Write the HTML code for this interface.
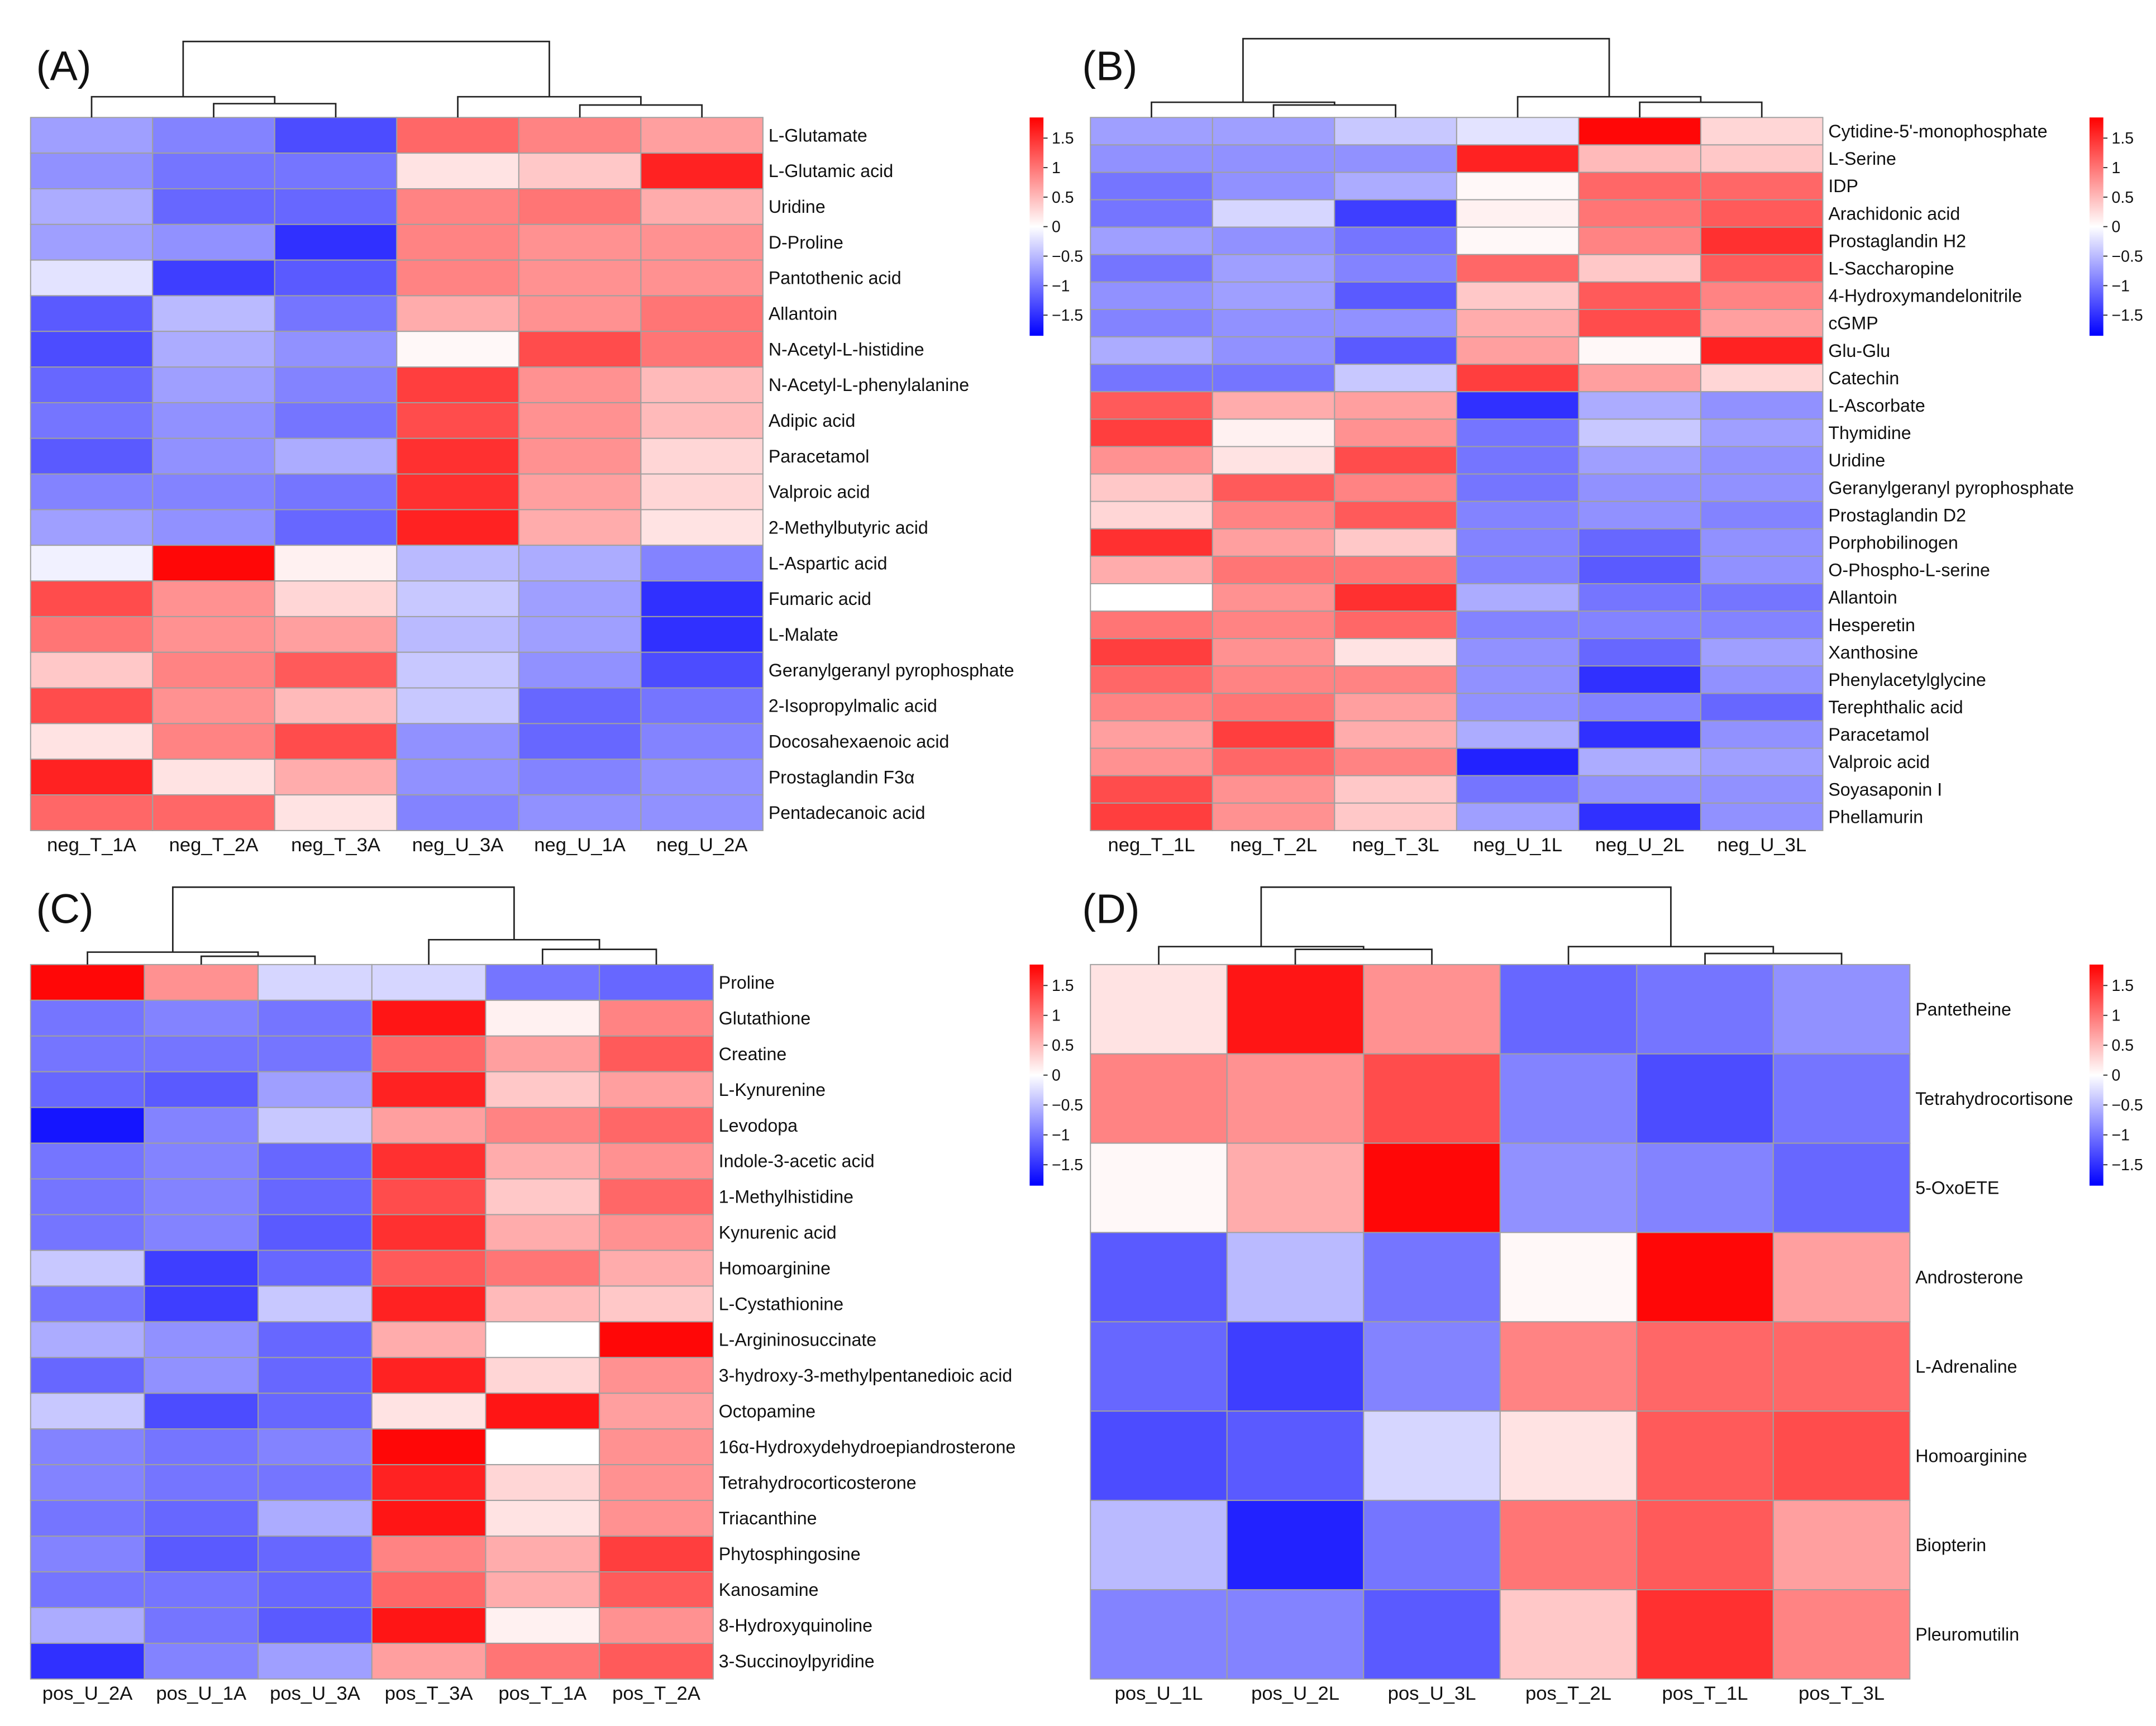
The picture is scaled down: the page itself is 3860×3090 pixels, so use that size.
<!DOCTYPE html>
<html><head><meta charset="utf-8">
<style>
html,body{margin:0;padding:0;background:#fff;}
svg{display:block;}
text{font-family:"Liberation Sans",Arial,sans-serif;fill:#111;}
</style></head>
<body>
<svg id="fig" width="3860" height="3090" viewBox="0 0 1560 1249" xmlns="http://www.w3.org/2000/svg">
<defs>
<linearGradient id="cb" x1="0" y1="0" x2="0" y2="1">
<stop offset="0" stop-color="#ff0000"/><stop offset="0.5" stop-color="#ffffff"/><stop offset="1" stop-color="#0000ff"/>
</linearGradient>
</defs>
</svg>
<script>
// ---- Panel A data ----
const colsA = ["neg_T_1A","neg_T_2A","neg_T_3A","neg_U_3A","neg_U_1A","neg_U_2A"];
const rowsA = ["L-Glutamate","L-Glutamic acid","Uridine","D-Proline","Pantothenic acid","Allantoin","N-Acetyl-L-histidine","N-Acetyl-L-phenylalanine","Adipic acid","Paracetamol","Valproic acid","2-Methylbutyric acid","L-Aspartic acid","Fumaric acid","L-Malate","Geranylgeranyl pyrophosphate","2-Isopropylmalic acid","Docosahexaenoic acid","Prostaglandin F3\u03b1","Pentadecanoic acid"];
const valsA = [
[-0.7,-0.9,-1.3,1.1,0.9,0.7],[-0.8,-1.0,-1.0,0.2,0.4,1.6],[-0.6,-1.1,-1.1,0.9,1.0,0.6],[-0.7,-0.8,-1.5,0.9,0.8,0.8],
[-0.2,-1.4,-1.2,0.9,0.8,0.8],[-1.2,-0.5,-1.0,0.6,0.8,1.0],[-1.3,-0.6,-0.8,0.05,1.3,1.0],[-1.1,-0.7,-0.9,1.4,0.8,0.5],
[-1.0,-0.8,-1.0,1.3,0.8,0.5],[-1.2,-0.8,-0.6,1.5,0.8,0.3],[-0.9,-0.9,-1.0,1.5,0.7,0.3],[-0.7,-0.8,-1.1,1.6,0.6,0.2],
[-0.1,1.8,0.1,-0.5,-0.6,-0.9],[1.3,0.8,0.3,-0.4,-0.7,-1.5],[1.0,0.8,0.7,-0.5,-0.7,-1.5],[0.4,0.9,1.2,-0.4,-0.8,-1.3],
[1.3,0.8,0.5,-0.4,-1.1,-1.0],[0.2,0.9,1.3,-0.8,-1.1,-0.9],[1.6,0.2,0.6,-0.8,-0.9,-0.8],[1.1,1.1,0.2,-0.9,-0.8,-0.8]];
// ---- Panel B data ----
const colsB = ["neg_T_1L","neg_T_2L","neg_T_3L","neg_U_1L","neg_U_2L","neg_U_3L"];
const rowsB = ["Cytidine-5'-monophosphate","L-Serine","IDP","Arachidonic acid","Prostaglandin H2","L-Saccharopine","4-Hydroxymandelonitrile","cGMP","Glu-Glu","Catechin","L-Ascorbate","Thymidine","Uridine","Geranylgeranyl pyrophosphate","Prostaglandin D2","Porphobilinogen","O-Phospho-L-serine","Allantoin","Hesperetin","Xanthosine","Phenylacetylglycine","Terephthalic acid","Paracetamol","Valproic acid","Soyasaponin I","Phellamurin"];
const valsB = [
[-0.7,-0.7,-0.4,-0.2,1.8,0.3],[-0.8,-0.8,-0.8,1.6,0.5,0.4],[-1.0,-0.8,-0.6,0.05,1.1,1.1],[-1.0,-0.3,-1.4,0.1,1.0,1.2],
[-0.7,-0.8,-1.0,0.05,0.9,1.5],[-1.0,-0.7,-0.9,1.1,0.4,1.2],[-0.8,-0.7,-1.2,0.4,1.2,0.9],[-0.9,-0.8,-0.8,0.6,1.3,0.7],
[-0.6,-0.8,-1.2,0.7,0.05,1.6],[-1.0,-1.0,-0.4,1.4,0.7,0.3],[1.2,0.6,0.7,-1.5,-0.6,-0.8],[1.4,0.1,0.8,-1.0,-0.4,-0.7],
[0.8,0.2,1.3,-1.0,-0.7,-0.8],[0.4,1.2,0.9,-1.0,-0.8,-0.8],[0.3,0.9,1.2,-0.9,-0.8,-0.9],[1.5,0.7,0.4,-0.9,-1.1,-0.8],
[0.6,1.0,1.0,-0.9,-1.2,-0.8],[0.0,0.8,1.5,-0.6,-1.0,-1.0],[1.0,0.9,1.1,-0.9,-0.9,-0.9],[1.4,0.8,0.2,-0.8,-1.1,-0.7],
[1.1,0.9,0.9,-0.8,-1.5,-0.8],[0.9,1.0,0.7,-0.8,-0.9,-1.1],[0.7,1.4,0.6,-0.6,-1.5,-0.8],[0.8,1.1,0.9,-1.6,-0.6,-0.7],
[1.3,0.8,0.4,-1.0,-0.8,-0.8],[1.4,0.8,0.4,-0.7,-1.5,-0.8]];
// ---- Panel C data ----
const colsC = ["pos_U_2A","pos_U_1A","pos_U_3A","pos_T_3A","pos_T_1A","pos_T_2A"];
const rowsC = ["Proline","Glutathione","Creatine","L-Kynurenine","Levodopa","Indole-3-acetic acid","1-Methylhistidine","Kynurenic acid","Homoarginine","L-Cystathionine","L-Argininosuccinate","3-hydroxy-3-methylpentanedioic acid","Octopamine","16\u03b1-Hydroxydehydroepiandrosterone","Tetrahydrocorticosterone","Triacanthine","Phytosphingosine","Kanosamine","8-Hydroxyquinoline","3-Succinoylpyridine"];
const valsC = [
[1.8,0.8,-0.3,-0.3,-1.0,-1.1],[-1.0,-0.9,-1.0,1.7,0.1,0.9],[-1.0,-1.0,-1.0,1.1,0.7,1.2],[-1.1,-1.2,-0.7,1.6,0.4,0.7],
[-1.7,-0.9,-0.4,0.7,0.9,1.1],[-1.0,-0.9,-1.1,1.5,0.6,0.8],[-1.0,-0.9,-1.1,1.3,0.4,1.1],[-1.0,-0.9,-1.2,1.5,0.6,0.8],
[-0.4,-1.4,-1.1,1.2,1.0,0.6],[-1.0,-1.4,-0.4,1.6,0.5,0.4],[-0.6,-0.8,-1.1,0.6,0.0,1.8],[-1.1,-0.8,-1.1,1.6,0.3,0.8],
[-0.4,-1.3,-1.1,0.2,1.7,0.7],[-0.9,-1.0,-0.9,1.8,0.0,0.8],[-0.9,-1.0,-1.0,1.6,0.3,0.8],[-1.0,-1.1,-0.6,1.7,0.2,0.8],
[-0.9,-1.2,-1.1,0.9,0.6,1.4],[-1.0,-1.0,-1.1,1.1,0.6,1.2],[-0.6,-1.0,-1.2,1.7,0.1,0.8],[-1.5,-0.9,-0.7,0.7,1.0,1.2]];
// ---- Panel D data ----
const colsD = ["pos_U_1L","pos_U_2L","pos_U_3L","pos_T_2L","pos_T_1L","pos_T_3L"];
const rowsD = ["Pantetheine","Tetrahydrocortisone","5-OxoETE","Androsterone","L-Adrenaline","Homoarginine","Biopterin","Pleuromutilin"];
const valsD = [
[0.2,1.7,0.8,-1.1,-1.0,-0.8],[0.9,0.8,1.3,-0.9,-1.3,-1.0],[0.05,0.6,1.8,-0.8,-0.9,-1.1],[-1.2,-0.5,-1.0,0.05,1.8,0.7],
[-1.1,-1.4,-0.9,0.9,1.1,1.1],[-1.3,-1.2,-0.3,0.2,1.2,1.3],[-0.5,-1.6,-1.0,1.0,1.2,0.7],[-0.9,-0.9,-1.2,0.4,1.5,0.9]];
const ticks = [1.5,1,0.5,0,-0.5,-1,-1.5];
const tickLabels = ["1.5","1","0.5","0","\u22120.5","\u22121","\u22121.5"];

const NS="http://www.w3.org/2000/svg";
const svg=document.getElementById('fig');
const VMAX=1.85;
function mk(tag,attrs,parent){const e=document.createElementNS(NS,tag);for(const k in attrs)e.setAttribute(k,attrs[k]);(parent||svg).appendChild(e);return e;}
function color(v){let t=Math.max(-1,Math.min(1,v/VMAX));
 if(t>=0){const c=Math.round(255*(1-t));return `rgb(255,${c},${c})`;}
 const c=Math.round(255*(1+t));return `rgb(${c},${c},255)`;}

function panel(id,letter,lx,ly,x0,y0,x1,y1,rows,cols,vals,labelX,colLabelY,dend,cb,fs){
 const g=mk('g',{});
 
 
 const t=mk('text',{x:lx,y:ly,'font-size':30},g);t.textContent='('+letter+')';
 
 
 const cw=(x1-x0)/cols.length, rh=(y1-y0)/rows.length;
 const y=i=>y0+i*rh, x=j=>x0+j*cw;
 rows.forEach((r,i)=>{
  cols.forEach((c,j)=>{
   const rc=mk('rect',{x:x(j),y:y(i),width:cw,height:rh,fill:color(vals[i][j]),stroke:'#a0a0a0','stroke-width':0.8},g);
   
   
  });
  const tx=mk('text',{x:labelX,y:y(i)+rh/2+4.5,'font-size':fs},g);tx.textContent=r;
  
  
 });
 cols.forEach((c,j)=>{
  const tx=mk('text',{x:x(j)+cw/2,y:colLabelY,'font-size':14,'text-anchor':'middle'},g);tx.textContent=c;
  
  
 });
 const cx=j=>x(j)+cw/2;
 const [root,lj,ls,rj,rs]=dend;
 const lsm=(cx(1)+cx(2))/2, rsm=(cx(4)+cx(5))/2;
 const lm=(cx(0)+lsm)/2, rm=(cx(3)+rsm)/2;
 const d=`M${cx(1)},${y0}V${ls}H${cx(2)}V${y0} M${cx(0)},${y0}V${lj}H${lsm}V${ls} M${cx(4)},${y0}V${rs}H${cx(5)}V${y0} M${cx(3)},${y0}V${rj}H${rsm}V${rs} M${lm},${lj}V${root}H${rm}V${rj}`;
 const p=mk('path',{d:d,fill:'none',stroke:'#222','stroke-width':1.1},g);
 
 
 const [bx,by0,by1]=cb;
 const bar=mk('rect',{x:bx,y:by0,width:10,height:by1-by0,fill:'url(#cb)'},g);
 
 
 const mid=(by0+by1)/2, per=(by1-by0)/2/VMAX;
 ticks.forEach((v,k)=>{
  const ty=mid-v*per;
  mk('line',{x1:bx+10,x2:bx+13,y1:ty,y2:ty,stroke:'#333','stroke-width':0.8},g);
  const tx=mk('text',{x:bx+16,y:ty+4,'font-size':11.5},g);tx.textContent=tickLabels[k];
  
  
 });
}
panel('a','A',26,58,22,85,552,601,rowsA,colsA,valsA,556,616,[30,70,75,70,76],[745,85,243],13);
panel('b','B',783,58,789,85,1319,601,rowsB,colsB,valsB,1323,616,[28,74,76,70,74],[1512,85,243],13);
panel('c','C',26,668,22,698,516,1215,rowsC,colsC,valsC,520,1230,[642,689,692,680,687],[745,698,858],13);
panel('d','D',783,668,789,698,1382,1215,rowsD,colsD,valsD,1386,1230,[642,685,687,685,690],[1512,698,858],13);
</script>
</body></html>
